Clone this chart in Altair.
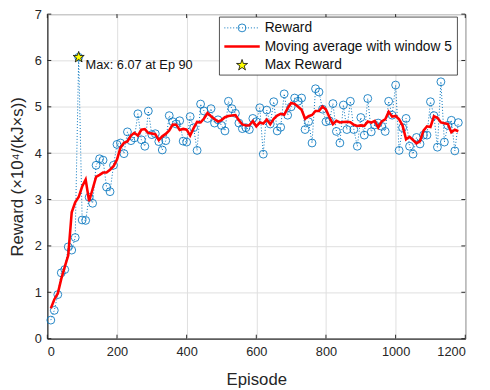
import altair as alt
import pandas as pd

episodes = list(range(10, 1181, 10))
rewards = [
    0.40, 0.61, 0.95, 1.42, 1.49, 1.98, 1.91, 2.18, 6.07, 2.56,
    2.55, 3.05, 2.92, 3.74, 3.88, 3.85, 3.27, 3.17, 3.74, 4.19,
    4.22, 3.99, 4.46, 4.27, 4.33, 4.85, 4.29, 4.15, 4.91, 4.40,
    4.42, 4.25, 4.07, 4.27, 4.81, 4.68, 4.63, 4.70, 4.26, 4.24,
    4.79, 4.55, 4.06, 5.06, 4.91, 4.75, 4.96, 4.65, 4.72, 4.60,
    4.48, 5.12, 4.96, 4.86, 4.65, 4.53, 4.55, 4.51, 4.75, 4.68,
    4.98, 3.98, 4.93, 4.63, 5.11, 4.48, 4.56, 5.28, 4.82, 5.00,
    5.19, 5.12, 5.19, 4.51, 4.68, 4.22, 5.39, 5.32, 4.95, 4.68,
    4.70, 5.07, 4.47, 4.22, 5.04, 4.51, 5.12, 4.51, 4.15, 4.77,
    4.39, 5.18, 4.46, 4.61, 4.65, 4.58, 4.47, 5.12, 4.82, 5.47,
    4.06, 4.55, 4.75, 4.15, 3.98, 4.34, 4.20, 4.39, 4.39, 5.11,
    4.81, 4.13, 5.54, 4.24, 4.60, 4.71, 4.05, 4.66,
]
x_ticks = [0, 200, 400, 600, 800, 1000, 1200]
y_ticks = [0, 1, 2, 3, 4, 5, 6, 7]
legend_labels = ["Reward", "Moving average with window 5", "Max Reward"]

df = pd.DataFrame({"Episode": episodes, "Reward": rewards})

W, H = 425, 330
BLUE = "#0072BD"
DARK = "#262626"
FONT = "Liberation Sans"
STAR = ("M0,-1L0.2245,-0.309L0.951,-0.309L0.363,0.118L0.588,0.809"
        "L0,0.382L-0.588,0.809L-0.363,0.118L-0.951,-0.309L-0.2245,-0.309Z")
XT = "Episode"
YT = "Reward (×10⁴/(kJ×s))"

xscale = alt.Scale(domain=[0, 1200], nice=False, zero=False)
yscale = alt.Scale(domain=[0, 7], nice=False, zero=False)

xaxis = alt.Axis(values=x_ticks, grid=True, tickSize=0, format="d",
                 labelPadding=7, titlePadding=14)
yaxis = alt.Axis(values=y_ticks, grid=True, format="d",
                 tickSize=0, labelPadding=6, titlePadding=8)


def X(field):
    return alt.X(field, scale=xscale, axis=xaxis, title=XT)


def Y(field):
    return alt.Y(field, scale=yscale, axis=yaxis, title=YT)


base = alt.Chart(df)

dotted = base.mark_line(color=BLUE, strokeDash=[1, 2], strokeWidth=1).encode(
    x=X("Episode:Q"), y=Y("Reward:Q"))

circles = base.mark_point(shape="circle", filled=False, size=64, color=BLUE,
                          strokeWidth=0.85, opacity=1).encode(
    x=X("Episode:Q"), y=Y("Reward:Q"))

ma = base.transform_window(
    MA="mean(Reward)", frame=[-2, 2], sort=[alt.SortField("Episode")]
).mark_line(color="#FF0000", strokeWidth=2.6).encode(
    x=X("Episode:Q"), y=Y("MA:Q"))

maxsel = base.transform_joinaggregate(maxR="max(Reward)").transform_filter(
    "datum.Reward == datum.maxR"
)

star = maxsel.mark_point(shape=STAR, filled=True, fill="#FFFF00", stroke="black",
                         strokeWidth=0.8, size=140, opacity=1).encode(
    x=X("Episode:Q"), y=Y("Reward:Q"))

annot = maxsel.transform_calculate(
    label="'Max: ' + format(datum.Reward, '.2f') + ' at Ep ' + datum.Episode"
).mark_text(align="left", baseline="middle", dx=7, dy=8, fontSize=13,
            font=FONT, color="#111111").encode(
    x=X("Episode:Q"), y=Y("Reward:Q"), text="label:N")

xt = alt.Chart(pd.DataFrame({"t": x_ticks}))
yt = alt.Chart(pd.DataFrame({"t": y_ticks}))
tick_b = xt.mark_rule(color=DARK, strokeWidth=1).encode(
    x=X("t:Q"), y=alt.value(H), y2=alt.value(H - 4))
tick_t = xt.mark_rule(color=DARK, strokeWidth=1).encode(
    x=X("t:Q"), y=alt.value(0), y2=alt.value(4))
tick_l = yt.mark_rule(color=DARK, strokeWidth=1).encode(
    y=Y("t:Q"), x=alt.value(0), x2=alt.value(4))
tick_r = yt.mark_rule(color=DARK, strokeWidth=1).encode(
    y=Y("t:Q"), x=alt.value(W - 4), x2=alt.value(W))

one = alt.Chart(pd.DataFrame({"a": [0]}))
LX0, LX1, LXC, LTX = 180, 216, 198, 221
R1, R2, R3 = 14, 33, 52
leg_box = one.mark_rect(fill="white", stroke=DARK, strokeWidth=0.8).encode(
    x=alt.value(175), x2=alt.value(417), y=alt.value(3), y2=alt.value(62))
leg_l1 = one.mark_rule(color=BLUE, strokeDash=[1, 2], strokeWidth=1).encode(
    x=alt.value(LX0), x2=alt.value(LX1), y=alt.value(R1))
leg_c1 = one.mark_point(shape="circle", filled=False, size=64, color=BLUE,
                        strokeWidth=0.85, opacity=1).encode(
    x=alt.value(LXC), y=alt.value(R1))
leg_l2 = one.mark_rule(color="#FF0000", strokeWidth=2.6).encode(
    x=alt.value(LX0), x2=alt.value(LX1), y=alt.value(R2))
leg_s3 = one.mark_point(shape=STAR, filled=True, fill="#FFFF00", stroke="black",
                        strokeWidth=0.8, size=140, opacity=1).encode(
    x=alt.value(LXC), y=alt.value(R3))
leg_texts = [
    one.mark_text(align="left", baseline="middle", fontSize=14, font=FONT,
                  color="#111111").encode(
        x=alt.value(LTX), y=alt.value(ry), text=alt.value(lbl))
    for lbl, ry in zip(legend_labels, [R1, R2, R3])
]

chart = alt.layer(
    dotted, circles, ma, star, annot, tick_b, tick_t, tick_l, tick_r,
    leg_box, leg_l1, leg_c1, leg_l2, leg_s3, *leg_texts
).properties(
    width=W, height=H,
    autosize=alt.AutoSizeParams(type="none"),
    padding={"left": 40, "top": 3, "right": 17, "bottom": 49},
).configure_view(
    stroke=DARK, strokeWidth=1
).configure_axis(
    domainColor=DARK, domainWidth=1, gridColor="#dedede", gridWidth=1,
    labelFont=FONT, labelFontSize=13, labelColor=DARK,
    titleFont=FONT, titleFontSize=17, titleColor=DARK, titleFontWeight="normal",
)

chart.save("out.html", embed_options={"renderer": "svg", "actions": False})
